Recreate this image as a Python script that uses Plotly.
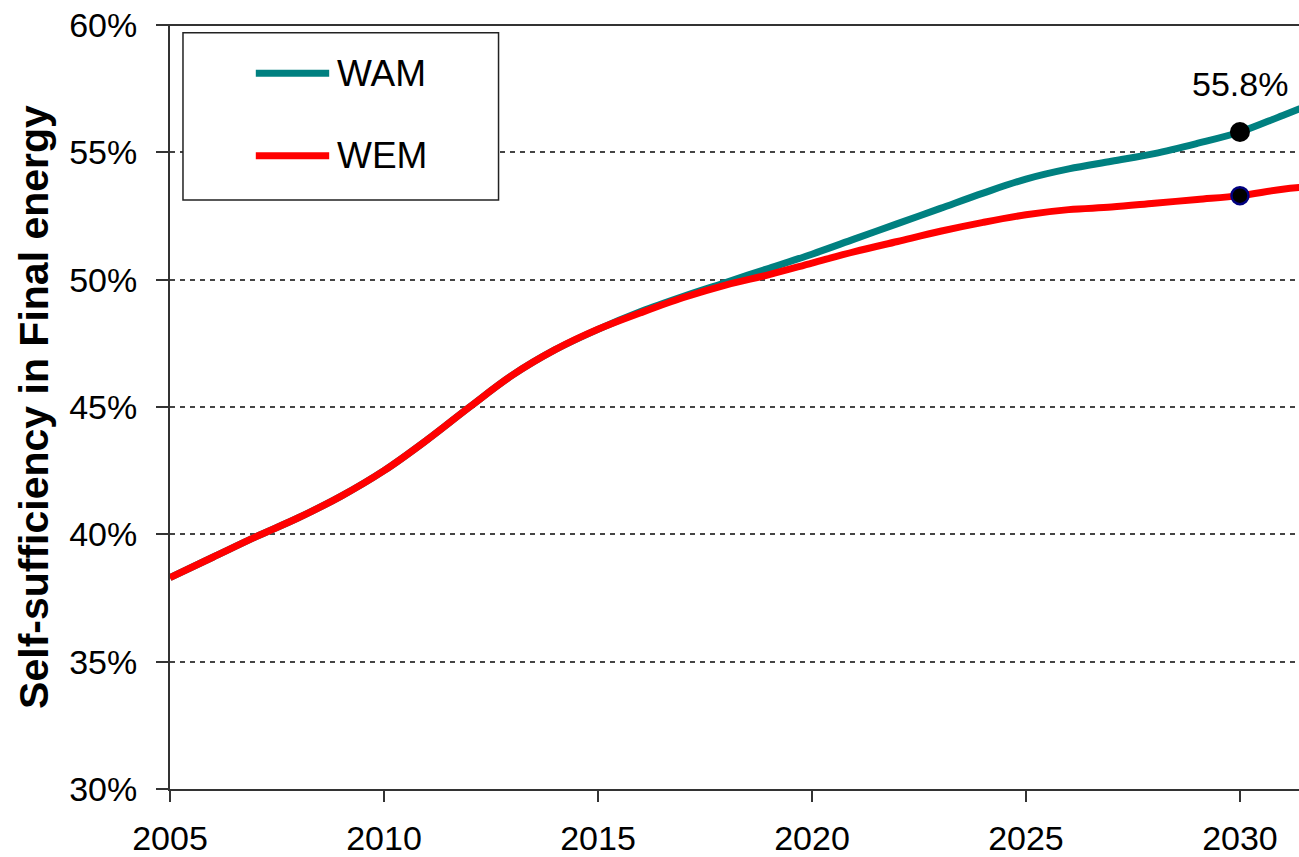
import plotly.graph_objects as go

years = list(range(2005, 2033))
wem = [38.3, 39.1, 39.9, 40.65, 41.5, 42.5, 43.7, 45.0, 46.25, 47.25, 48.05, 48.7,
       49.3, 49.8, 50.2, 50.65, 51.1, 51.5, 51.9, 52.25, 52.55, 52.75, 52.85, 53.0,
       53.15, 53.3, 53.55, 53.7]
wam = [38.3, 39.1, 39.9, 40.65, 41.5, 42.5, 43.7, 45.0, 46.25, 47.25, 48.05, 48.75,
       49.35, 49.9, 50.45, 51.0, 51.6, 52.2, 52.8, 53.4, 53.95, 54.35, 54.65, 54.95,
       55.35, 55.8, 56.45, 57.1]
highlight_year = 2030
y_ticks = [30, 35, 40, 45, 50, 55, 60]
y_tick_text = [f"{v}%" for v in y_ticks]
x_ticks = [2005, 2010, 2015, 2020, 2025, 2030]

TEAL = "#008080"
RED = "#FF0000"
FONT = "Liberation Sans, Arial, sans-serif"

hi = years.index(highlight_year)

fig = go.Figure()
fig.add_trace(go.Scatter(x=years, y=wam, mode="lines", name="WAM",
                         line=dict(color=TEAL, width=7, shape="spline", smoothing=1)))
fig.add_trace(go.Scatter(x=years, y=wem, mode="lines", name="WEM",
                         line=dict(color=RED, width=7, shape="spline", smoothing=1)))
fig.add_trace(go.Scatter(x=[years[hi]], y=[wam[hi]], mode="markers", showlegend=False,
                         marker=dict(color="black", size=20, line=dict(width=0))))
fig.add_trace(go.Scatter(x=[years[hi]], y=[wem[hi]], mode="markers", showlegend=False,
                         marker=dict(color="black", size=17, line=dict(color="#000080", width=2.5))))

fig.add_annotation(x=years[hi], y=wam[hi], text=f"{wam[hi]}%", showarrow=False,
                   yshift=48, font=dict(family=FONT, size=34, color="black"))

# manual legend
fig.add_shape(type="rect", xref="paper", yref="paper", x0=0.0115, x1=0.291, y0=0.771, y1=0.990,
              line=dict(color="#222", width=1.5), fillcolor="white", layer="above")
for yy, col, lab in [(0.937, TEAL, "WAM"), (0.829, RED, "WEM")]:
    fig.add_shape(type="line", xref="paper", yref="paper", x0=0.076, x1=0.141, y0=yy, y1=yy,
                  line=dict(color=col, width=7), layer="above")
    fig.add_annotation(xref="paper", yref="paper", x=0.146, y=yy, text=lab, showarrow=False,
                       xanchor="left", yanchor="middle", font=dict(family=FONT, size=37, color="black"))

# top border
fig.add_shape(type="line", xref="paper", yref="paper", x0=-0.011, x1=1, y0=1, y1=1,
              line=dict(color="#333", width=2))

fig.update_layout(
    width=1299, height=857,
    margin=dict(l=170, r=0, t=25, b=68),
    paper_bgcolor="white", plot_bgcolor="white",
    showlegend=False,
    font=dict(family=FONT, size=34, color="black"),
)
fig.update_xaxes(range=[2005, 2031.38], tickvals=x_ticks, showgrid=False,
                 showline=True, linecolor="#333", linewidth=2,
                 ticks="outside", ticklen=11, tickwidth=2, tickcolor="#333",
                 tickfont=dict(size=34), zeroline=False, ticklabelstandoff=7,
                 ticklabeloverflow="allow", automargin=False)
fig.update_yaxes(range=[30, 60], tickvals=y_ticks, ticktext=y_tick_text,
                 showgrid=True, gridcolor="#444", gridwidth=1.5, griddash="5px,5px",
                 showline=True, linecolor="#333", linewidth=2,
                 ticks="outside", ticklen=12, tickwidth=2, tickcolor="#333",
                 tickfont=dict(size=34), zeroline=False, ticklabelstandoff=12,
                 ticklabeloverflow="allow", automargin=False,
                 title=dict(text="<b>Self-sufficiency in Final energy</b>",
                            font=dict(size=41), standoff=8))

fig.write_html("out.html", config={"displayModeBar": False},
               post_script="document.body.style.margin='0';document.body.style.overflow='hidden';")
